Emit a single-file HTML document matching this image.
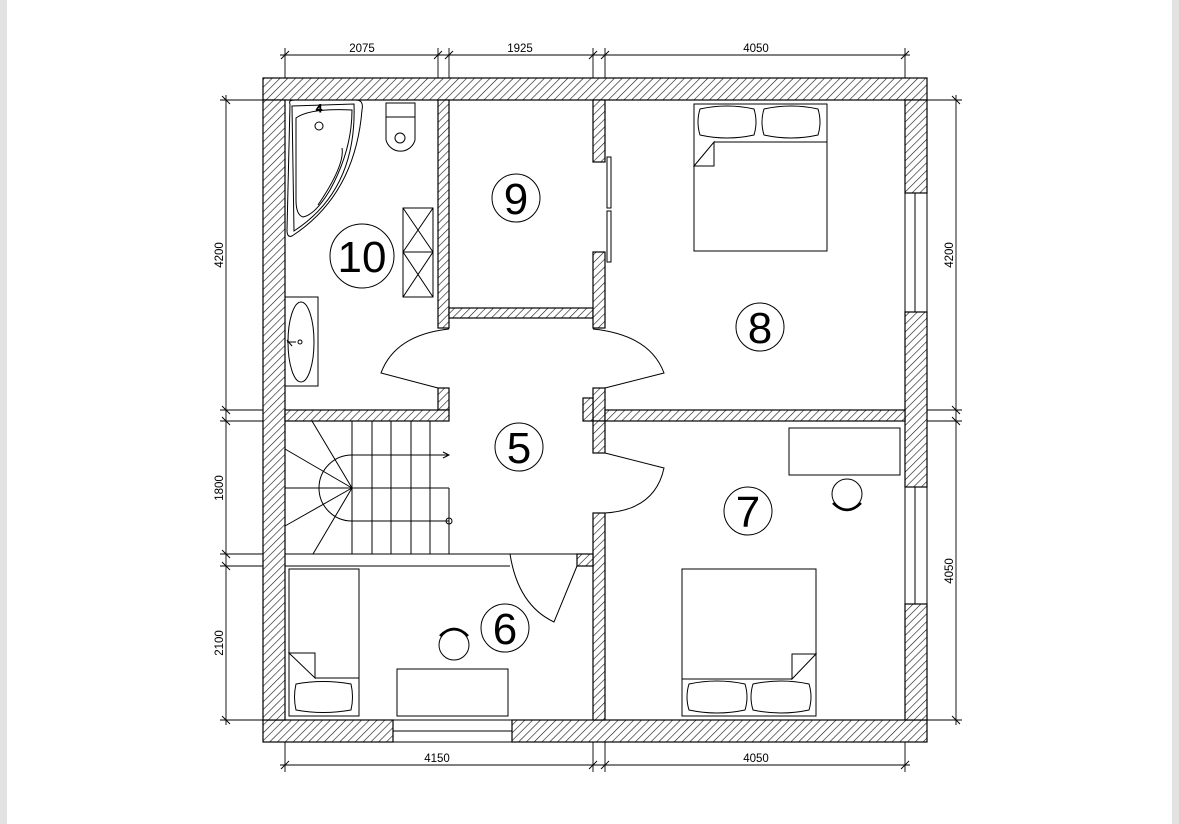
<!DOCTYPE html>
<html><head><meta charset="utf-8"><style>
html,body{margin:0;padding:0;background:#fff;}
svg{display:block;}
text{font-family:"Liberation Sans",sans-serif;fill:#000;}
</style></head><body>
<svg width="1179" height="824" viewBox="0 0 1179 824" xmlns="http://www.w3.org/2000/svg">
<defs>
<pattern id="h" patternUnits="userSpaceOnUse" width="5.5" height="5.5" patternTransform="rotate(45)">
<rect width="5.5" height="5.5" fill="#fff"/><line x1="0" y1="0" x2="0" y2="5.5" stroke="#111" stroke-width="1.2"/>
</pattern>
</defs>
<rect x="0" y="0" width="1179" height="824" fill="#fff"/>
<rect x="0" y="0" width="7" height="824" fill="#e2e2e2"/>
<rect x="1172" y="0" width="7" height="824" fill="#e2e2e2"/>

<g fill="url(#h)" stroke="#000" stroke-width="1.2">
<rect x="263" y="78" width="664" height="22"/>
<rect x="263" y="720" width="130" height="22"/>
<rect x="512" y="720" width="415" height="22"/>
<rect x="263" y="100" width="22" height="620"/>
<rect x="905" y="100" width="22" height="93"/>
<rect x="905" y="312" width="22" height="175"/>
<rect x="905" y="604" width="22" height="116"/>
<rect x="438" y="100" width="11" height="228"/>
<rect x="438" y="388" width="11" height="22"/>
<rect x="449" y="308" width="144" height="10"/>
<rect x="593" y="100" width="12" height="62"/>
<rect x="593" y="252" width="12" height="76"/>
<rect x="593" y="388" width="12" height="33"/>
<rect x="583" y="398" width="10" height="23"/>
<rect x="285" y="410" width="164" height="11"/>
<rect x="605" y="410" width="300" height="11"/>
<rect x="593" y="421" width="12" height="32"/>
<rect x="593" y="513" width="12" height="207"/>
<rect x="577" y="554" width="16" height="12"/>
</g>

<g fill="none" stroke="#000" stroke-width="1">
<line x1="393" y1="720" x2="512" y2="720"/><line x1="393" y1="731" x2="512" y2="731"/><line x1="393" y1="742" x2="512" y2="742"/>
<line x1="905" y1="193" x2="905" y2="312"/><line x1="915" y1="193" x2="915" y2="312"/><line x1="927" y1="193" x2="927" y2="312"/>
<line x1="905" y1="487" x2="905" y2="604"/><line x1="915" y1="487" x2="915" y2="604"/><line x1="927" y1="487" x2="927" y2="604"/>
<rect x="607" y="157" width="4" height="51"/><rect x="607" y="211" width="4" height="51"/>
<line x1="285" y1="554" x2="577" y2="554"/><line x1="285" y1="566" x2="510" y2="566"/>
<path d="M449,329 Q395,335 381,373 L438,388"/>
<path d="M593,329 Q650,335 664,373 L605,388"/>
<path d="M605,453 L664,468 Q655,510 605,513"/>
<path d="M510,554 Q518,605 554,622 L577,566"/>

<line x1="352" y1="421" x2="352" y2="554"/><line x1="372" y1="421" x2="372" y2="554"/><line x1="391" y1="421" x2="391" y2="554"/>
<line x1="411" y1="421" x2="411" y2="554"/><line x1="430" y1="421" x2="430" y2="554"/><line x1="449" y1="488" x2="449" y2="554"/>
<line x1="352" y1="455" x2="449" y2="455"/><path d="M443,452 L449,455 L443,458"/>
<line x1="285" y1="488" x2="449" y2="488"/><line x1="352" y1="521" x2="449" y2="521"/>
<circle cx="449" cy="521" r="3"/>
<path d="M352,455 A33,33 0 0 0 352,521"/>
<line x1="352" y1="488" x2="312" y2="421"/><line x1="352" y1="488" x2="285" y2="449"/>
<line x1="352" y1="488" x2="285" y2="526"/><line x1="352" y1="488" x2="313" y2="554"/>

<path d="M290,104 Q288,100 295,100 L356,100 Q364,100 362,110 Q355,195 292,236 Q287,238 287,230 Z"/>
<path d="M292,106 L354,104 Q357,190 294,231 Z"/>
<path d="M296,118 Q310,108 352,110 Q352,150 330,190 Q315,215 303,217 Q296,215 296,200 Z"/>
<path d="M342,148 Q345,165 318,205"/>
<circle cx="319" cy="126" r="4"/>
<text x="319" y="112" font-size="11" text-anchor="middle">4</text>
<rect x="386" y="103" width="29" height="14"/>
<path d="M386,117 L386,140 A15,15 0 0 0 415,140 L415,117"/>
<circle cx="400" cy="138" r="5"/>
<rect x="403" y="208" width="30" height="44"/><rect x="403" y="252" width="30" height="45"/>
<path d="M403,208 L433,252 M433,208 L403,252 M403,252 L433,297 M433,252 L403,297"/>
<rect x="285" y="297" width="33" height="89"/>
<ellipse cx="301" cy="342" rx="13" ry="40"/>
<circle cx="300" cy="342" r="2"/><path d="M287,342 L296,342 M287,340 L292,346"/>

<rect x="694" y="104" width="133" height="147"/>
<line x1="714" y1="142" x2="827" y2="142"/>
<path d="M694,166 L714,142 L714,166 Z"/>
<path d="M700,109 Q727,103 754,109 Q758,122 754,135 Q727,141 700,135 Q696,122 700,109 Z"/>
<path d="M764,109 Q791,103 818,109 Q822,122 818,135 Q791,141 764,135 Q760,122 764,109 Z"/>
<rect x="682" y="569" width="134" height="147"/>
<line x1="682" y1="679" x2="792" y2="679"/>
<path d="M792,679 L816,654 L792,654 Z"/>
<path d="M689,684 Q717,678 745,684 Q749,697 745,710 Q717,716 689,710 Q685,697 689,684 Z"/>
<path d="M753,684 Q781,678 809,684 Q813,697 809,710 Q781,716 753,710 Q749,697 753,684 Z"/>
<rect x="789" y="428" width="111" height="47"/>
<circle cx="847" cy="494" r="15"/>
<path d="M833,503 Q847,517 861,503" stroke-width="2.5"/>
<rect x="289" y="569" width="70" height="147"/>
<line x1="315" y1="678" x2="359" y2="678"/>
<path d="M289,653 L315,653 L315,678 Z"/>
<path d="M296,684 Q323,679 351,684 Q354,697 351,710 Q323,715 296,710 Q293,697 296,684 Z"/>
<rect x="397" y="669" width="111" height="47"/>
<circle cx="454" cy="645" r="15"/>
<path d="M440,636 Q454,622 468,636" stroke-width="2.5"/>

<circle cx="362" cy="256" r="32"/>
<circle cx="516" cy="198" r="24"/>
<circle cx="760" cy="327" r="24"/>
<circle cx="519" cy="447" r="24"/>
<circle cx="505" cy="628" r="24"/>
<circle cx="748" cy="511" r="24"/>
</g>
<g font-size="44" text-anchor="middle">
<text x="362" y="272">10</text>
<text x="516" y="214">9</text>
<text x="760" y="343">8</text>
<text x="519" y="463">5</text>
<text x="505" y="644">6</text>
<text x="748" y="527">7</text>
</g>

<g fill="none" stroke="#000" stroke-width="0.9">
<line x1="280" y1="55" x2="910" y2="55"/>
<path d="M285,48 V78 M438,48 V78 M449,48 V78 M593,48 V78 M605,48 V78 M905,48 V78"/>
<path d="M281,59 L289,51 M434,59 L442,51 M445,59 L453,51 M589,59 L597,51 M601,59 L609,51 M901,59 L909,51"/>
<line x1="280" y1="765" x2="910" y2="765"/>
<path d="M285,742 V772 M593,742 V772 M605,742 V772 M905,742 V772"/>
<path d="M281,769 L289,761 M589,769 L597,761 M601,769 L609,761 M901,769 L909,761"/>
<line x1="226" y1="95" x2="226" y2="725"/>
<path d="M220,100 H263 M220,410 H263 M220,421 H263 M220,554 H263 M220,566 H263 M220,720 H263"/>
<path d="M222,96 L230,104 M222,406 L230,414 M222,417 L230,425 M222,550 L230,558 M222,562 L230,570 M222,716 L230,724"/>
<line x1="956" y1="95" x2="956" y2="725"/>
<path d="M927,100 H962 M927,410 H962 M927,421 H962 M927,720 H962"/>
<path d="M952,96 L960,104 M952,406 L960,414 M952,417 L960,425 M952,716 L960,724"/>
</g>
<g font-size="11.5" text-anchor="middle">
<text x="362" y="52">2075</text>
<text x="520" y="52">1925</text>
<text x="756" y="52">4050</text>
<text x="437" y="762">4150</text>
<text x="756" y="762">4050</text>
<text transform="translate(223,255) rotate(-90)">4200</text>
<text transform="translate(223,488) rotate(-90)">1800</text>
<text transform="translate(223,643) rotate(-90)">2100</text>
<text transform="translate(953,255) rotate(-90)">4200</text>
<text transform="translate(953,571) rotate(-90)">4050</text>
</g>
</svg>
</body></html>
